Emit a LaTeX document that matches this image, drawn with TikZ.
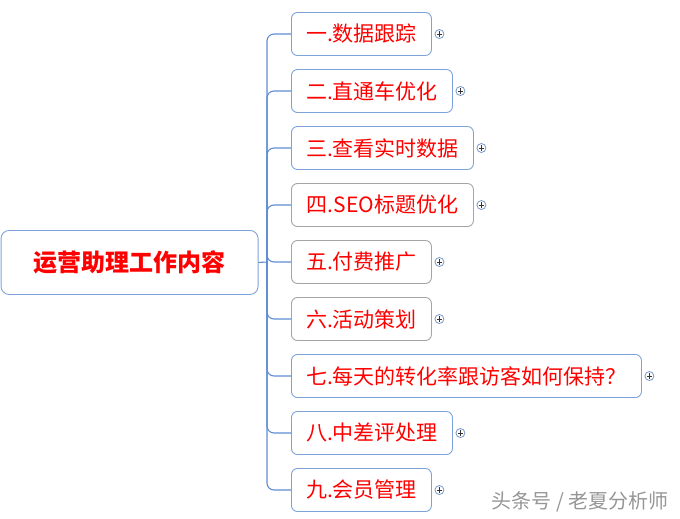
\documentclass[tikz,border=0pt]{standalone}
\usepackage{fontspec}
\setmainfont{Noto Sans CJK SC}
\definecolor{boxblue}{RGB}{125,163,218}
\definecolor{boxgrey}{RGB}{165,165,165}
\definecolor{linkblue}{RGB}{95,140,210}
\definecolor{plusring}{RGB}{120,150,200}
\definecolor{wmgrey}{RGB}{150,150,150}
\tikzset{
  rootbox/.style={draw=boxblue, line width=0.9pt, rounded corners=8pt, fill=white,
    minimum width=257pt, minimum height=64pt, text=red, inner sep=0pt,
    font=\fontsize{24}{28}\selectfont\bfseries},
  childbox/.style={draw=boxblue, line width=0.9pt, rounded corners=6pt, fill=white,
    minimum height=43pt, text=red, inner sep=0pt, anchor=west,
    font=\fontsize{21}{25}\selectfont},
  greybox/.style={childbox, draw=boxgrey},
  plusmark/.style={circle, draw=plusring, line width=0.8pt, minimum size=9pt, inner sep=0pt,
    path picture={\draw[black!80, line width=0.8pt]
      ([xshift=-2.6pt]path picture bounding box.center) -- ([xshift=2.6pt]path picture bounding box.center)
      ([yshift=-2.6pt]path picture bounding box.center) -- ([yshift=2.6pt]path picture bounding box.center);}},
  link/.style={draw=linkblue, line width=1.1pt},
}
\begin{document}
\begin{tikzpicture}[x=1pt,y=-1pt]
\useasboundingbox (0,0) rectangle (680,519);
\node[rootbox, anchor=north west] (root) at (0.6,230) {运营助理工作内容};
\coordinate (trunk) at (267,262);

\node[childbox, minimum width=140pt] (c1) at (291,34) {一.数据跟踪};
\node[childbox, minimum width=161pt] (c2) at (291,91) {二.直通车优化};
\node[childbox, minimum width=182pt] (c3) at (291,148) {三.查看实时数据};
\node[greybox, minimum width=182pt] (c4) at (291,205) {四.SEO标题优化};
\node[greybox, minimum width=140pt] (c5) at (291,262) {五.付费推广};
\node[greybox, minimum width=140pt] (c6) at (291,319) {六.活动策划};
\node[childbox, minimum width=350pt] (c7) at (291,376) {七.每天的转化率跟访客如何保持？};
\node[childbox, minimum width=161pt] (c8) at (291,433) {八.中差评处理};
\node[childbox, minimum width=140pt] (c9) at (291,490) {九.会员管理};

\foreach \i in {1,...,9}{
  \node[plusmark] (p\i) at ([xshift=7.5pt]c\i.east) {};
  \draw[link, rounded corners=7pt] (trunk) |- (c\i.west);
}
\draw[link] (root.east) -- (trunk);

\node[text=wmgrey, font=\fontsize{20}{23}\selectfont, anchor=center] (wm) at (580,502) {头条号 / 老夏分析师};
\end{tikzpicture}
\end{document}
